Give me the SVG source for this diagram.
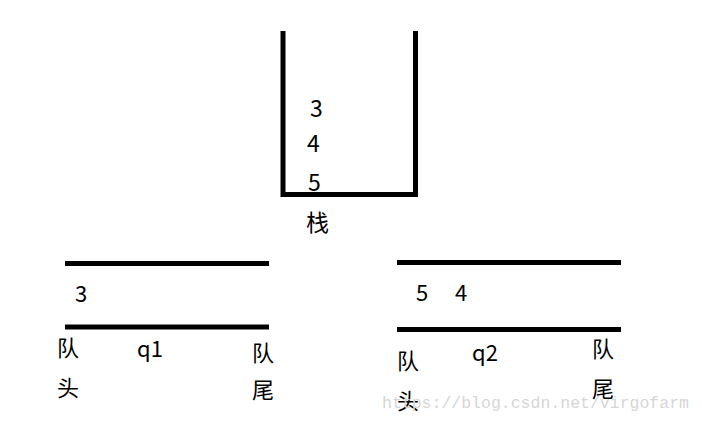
<svg xmlns="http://www.w3.org/2000/svg" width="702" height="424" viewBox="0 0 702 424">
<style>
.ln{fill:none;stroke:#000;stroke-width:5}
.t{font-family:"Noto Sans CJK SC","Microsoft YaHei",sans-serif;fill:#000}
.s{font-size:23px}
.q{font-size:22px}
.c{font-size:22px}
.wm{font-family:"Liberation Mono","DejaVu Sans Mono",monospace;font-size:16.5px;fill:#d6d6d6}
</style>
<rect width="702" height="424" fill="#fff"/>
<g id="connectors"></g>
<g id="stack">
<path class="ln" d="M283,31 V194.5 H415.5 V31"/>
<text class="t s" x="310" y="117">3</text>
<text class="t s" x="307" y="152">4</text>
<text class="t s" x="308" y="191">5</text>
<text class="t s" x="306" y="231">栈</text>
</g>
<g id="q1">
<line class="ln" x1="65" y1="263.5" x2="269" y2="263.5"/>
<line class="ln" x1="65" y1="327" x2="269" y2="327"/>
<text class="t q" x="75" y="302">3</text>
<text class="t c" x="57" y="356">队</text>
<text class="t c" x="57" y="396">头</text>
<text class="t q" x="137" y="357">q1</text>
<text class="t c" x="252" y="361">队</text>
<text class="t c" x="252" y="398">尾</text>
</g>
<g id="q2">
<line class="ln" x1="397" y1="262.5" x2="621" y2="262.5"/>
<line class="ln" x1="397" y1="329.5" x2="621" y2="329.5"/>
<text class="t q" x="416" y="301">5</text>
<text class="t q" x="455" y="301">4</text>
<text class="t c" x="397" y="369">队</text>
<text class="t c" x="397" y="409">头</text>
<text class="t q" x="472" y="361">q2</text>
<text class="t c" x="592" y="357">队</text>
<text class="t c" x="592" y="397">尾</text>
</g>
<text class="wm" x="382" y="408">https://blog.csdn.net/virgofarm</text>
</svg>
